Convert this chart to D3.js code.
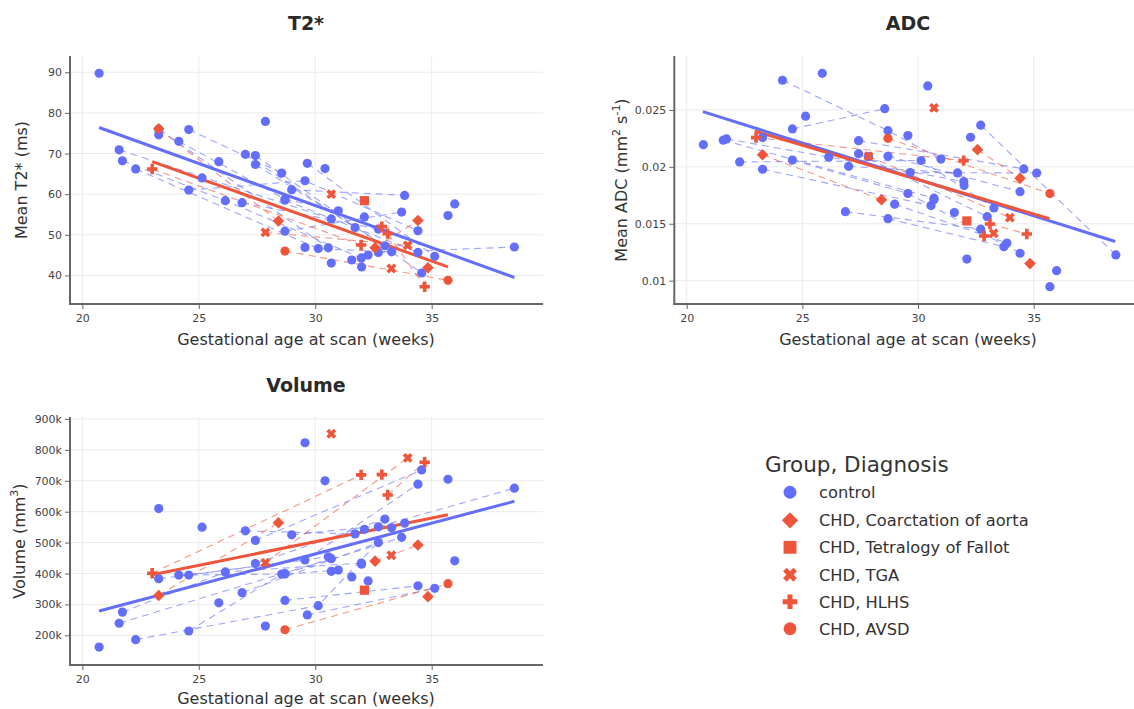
<!DOCTYPE html>
<html>
<head>
<meta charset="utf-8">
<script src="https://cdn.jsdelivr.net/npm/d3@7"></script>
<style>
  html, body { margin: 0; padding: 0; background: #fff; }
  svg { display: block; font-family: "DejaVu Sans", Verdana, sans-serif; }
</style>
</head>
<body>
<svg id="chart" width="1134" height="709"></svg>
<script>
// ---------------- DATA ----------------
const groupLabels = ["control", "CHD, Coarctation of aorta", "CHD, Tetralogy of Fallot", "CHD, TGA", "CHD, HLHS", "CHD, AVSD"];

// one entry per scan (50 control scans, then 17 CHD scans)
const scanAge = [20.72,21.58,21.72,22.29,23.28,23.28,24.14,24.57,24.57,25.14,25.86,26.14,26.86,27.0,27.43,27.43,27.86,28.56,28.70,28.70,28.70,28.99,29.56,29.56,29.66,30.13,30.42,30.56,30.69,30.69,30.99,31.57,31.71,31.98,31.99,32.11,32.27,32.71,32.71,32.99,33.28,33.71,33.84,34.41,34.41,34.57,35.13,35.70,35.99,38.55,
  23.28,28.42,32.57,34.41,34.84,32.11,27.86,30.69,33.27,33.97,23.0,31.97,32.86,33.11,34.70,28.70,35.70];

// 0 control, 1 coarctation, 2 ToF, 3 TGA, 4 HLHS, 5 AVSD
const scanGroup = [0,0,0,0,0,0,0,0,0,0,0,0,0,0,0,0,0,0,0,0,0,0,0,0,0,0,0,0,0,0,0,0,0,0,0,0,0,0,0,0,0,0,0,0,0,0,0,0,0,0,
  1,1,1,1,1,2,3,3,3,3,4,4,4,4,4,5,5];

const scanSubject = ["s01","sA","sB","sC","s05","sR","sE","sF","sG","s10","s11","sB","sQ","sI","sJ","sK","s17","sF","sE","sO","sN","sP","s23","sG","sS","sC","s27","sR","sA","s30","sE","s32","sI","sB","s35","s36","s37","sM","sQ","sK","sC","sN","sP","sG","sO","sJ","sS","s48","s49","sM",
  "CoA1","CoA1","CoA2","CoA2","CoA3","ToF1","TGA1","TGA2","TGA3","TGA1","HLHS1","HLHS1","HLHS2","HLHS3","HLHS3","AVSD1","AVSD1"];

const t2Values = [89.75,70.9,68.2,66.2,74.6,76.0,73.0,75.9,61.0,64.0,68.0,58.4,57.9,69.8,69.5,67.3,77.9,65.2,58.8,58.5,50.9,61.1,46.9,63.3,67.6,46.6,66.3,46.8,53.9,43.05,55.9,43.8,51.8,44.3,42.1,54.4,45.0,45.65,51.4,47.3,45.8,55.6,59.7,51.0,45.65,40.6,44.7,54.75,57.6,47.0,
  76.1,53.4,46.8,53.5,41.9,58.4,50.6,60.0,41.7,47.4,66.2,47.5,52.0,50.3,37.2,46.0,38.8];

const adcValues = [0.02195,0.02234,0.02245,0.02043,0.02257,0.01979,0.02761,0.02333,0.0206,0.02445,0.02822,0.02086,0.01606,0.02005,0.0223,0.02116,0.0209,0.02511,0.02318,0.02093,0.01545,0.01672,0.02275,0.01766,0.0195,0.02056,0.02711,0.0166,0.01725,0.0171,0.02068,0.01599,0.01947,0.01871,0.01836,0.0119,0.0226,0.02366,0.01452,0.01562,0.01639,0.01299,0.01331,0.01241,0.01782,0.01982,0.01946,0.00947,0.01088,0.01226,
  0.02107,0.01711,0.02151,0.019,0.0115,0.01525,0.02093,0.02518,0.01416,0.01554,0.02257,0.02055,0.01393,0.01498,0.0141,0.02251,0.01765];

const volValues = [162e3,239e3,275e3,186e3,610e3,383e3,395e3,214e3,395e3,550e3,305e3,405e3,338e3,538e3,507e3,432e3,230e3,398e3,398e3,313e3,400e3,525e3,823e3,444e3,266e3,296e3,700e3,454e3,448e3,407e3,411e3,389e3,528e3,434e3,430e3,543e3,376e3,551e3,500e3,576e3,548e3,517e3,563e3,689e3,360e3,735e3,352e3,705e3,441e3,676e3,
  329e3,564e3,440e3,492e3,325e3,346e3,435e3,852e3,459e3,774e3,401e3,719e3,720e3,654e3,760e3,218e3,367e3];

// fitted trend lines (end points)
const t2FitControl = [[20.72, 76.4], [38.55, 39.5]];
const t2FitCHD = [[23.0, 68.0], [35.70, 42.1]];
const adcFitControl = [[20.70, 0.02485], [38.52, 0.01344]];
const adcFitCHD = [[22.94, 0.02314], [35.68, 0.01544]];
const volFitControl = [[20.72, 278.6e3], [38.55, 633.6e3]];
const volFitCHD = [[23.0, 396e3], [35.70, 590e3]];

const xTicks = [20, 25, 30, 35];
const t2Ticks = [40, 50, 60, 70, 80, 90];
const adcTicks = [0.01, 0.015, 0.02, 0.025];
const volTicks = [200e3, 300e3, 400e3, 500e3, 600e3, 700e3, 800e3, 900e3];

// ---------------- DRAWING ----------------
const BLUE = "#636EFA", RED = "#EF553B";
const svg = d3.select("#chart");

const scans = scanAge.map((a, i) => ({
  age: a, group: scanGroup[i], subject: scanSubject[i],
  t2: t2Values[i], adc: adcValues[i], vol: volValues[i]
}));

function markerPath(group, big) {
  const k = big ? 1.4 : 1;
  if (group === 0 || group === 5) {
    const r = 4.6 * k;
    return d3.symbol(d3.symbolCircle, Math.PI * r * r)();
  }
  if (group === 1) {
    const h = 5.8 * k;
    return `M0,${-h}L${h},0L0,${h}L${-h},0Z`;
  }
  if (group === 2) {
    const s = 4.6 * k;
    return `M${-s},${-s}H${s}V${s}H${-s}Z`;
  }
  const t = 1.8 * k, L = 5.2 * k;
  return `M${-t},${-L}H${t}V${-t}H${L}V${t}H${t}V${L}H${-t}V${t}H${-L}V${-t}H${-t}Z`;
}
function markerRotate(group) { return group === 3 ? 45 : 0; }

const panels = [
  { key: "t2", title: "T2*", left: 70, top: 56, width: 473, height: 248,
    xDomain: [19.47, 39.78], yDomain: [32.97, 94.0], yTicks: t2Ticks, fmt: d => d,
    fitC: t2FitControl, fitH: t2FitCHD, titleX: 306, titleY: 30, ylabelX: 27, xlabelX: 306, xlabelY: 345,
    ylabel: [["Mean T2* (ms)", 0]] },
  { key: "adc", title: "ADC", left: 674.3, top: 56, width: 473, height: 248,
    xDomain: [19.464, 39.91], yDomain: [0.00795, 0.02974], yTicks: adcTicks, fmt: d => String(d),
    fitC: adcFitControl, fitH: adcFitCHD, titleX: 908, titleY: 30, ylabelX: 627, xlabelX: 908, xlabelY: 345,
    ylabel: [["Mean ADC (mm", 0], ["2", 1], [" s", 0], ["-1", 1], [")", 0]] },
  { key: "vol", title: "Volume", left: 70, top: 417, width: 473, height: 248,
    xDomain: [19.47, 39.78], yDomain: [103.9e3, 906.4e3], yTicks: volTicks, fmt: d => (d / 1000) + "k",
    fitC: volFitControl, fitH: volFitCHD, titleX: 306, titleY: 392, ylabelX: 25, xlabelX: 306, xlabelY: 704,
    ylabel: [["Volume (mm", 0], ["3", 1], [")", 0]] }
];

panels.forEach(p => {
  const x = d3.scaleLinear().domain(p.xDomain).range([p.left, p.left + p.width]);
  const y = d3.scaleLinear().domain(p.yDomain).range([p.top + p.height, p.top]);
  const g = svg.append("g");
  const bottom = p.top + p.height;

  // grid
  g.selectAll(".gx").data(xTicks).join("line")
    .attr("x1", d => x(d)).attr("x2", d => x(d))
    .attr("y1", p.top).attr("y2", bottom)
    .attr("stroke", "#ebebeb").attr("stroke-width", 1);
  g.selectAll(".gy").data(p.yTicks).join("line")
    .attr("x1", p.left).attr("x2", p.left + p.width)
    .attr("y1", d => y(d)).attr("y2", d => y(d))
    .attr("stroke", "#ebebeb").attr("stroke-width", 1);

  // axes
  const xAxis = d3.axisBottom(x).tickValues(xTicks).tickSize(5).tickPadding(3).tickFormat(d => d);
  const yAxis = d3.axisLeft(y).tickValues(p.yTicks).tickSize(5).tickPadding(3).tickFormat(p.fmt);
  const gx = g.append("g").attr("transform", `translate(0,${bottom})`).call(xAxis);
  const gy = g.append("g").attr("transform", `translate(${p.left},0)`).call(yAxis);
  [gx, gy].forEach(a => {
    a.select(".domain").remove();
    a.selectAll(".tick line").attr("stroke", "#666").attr("stroke-width", 1);
    a.selectAll(".tick text").attr("fill", "#444").style("font-size", "11px")
      .style("font-family", "'DejaVu Sans', Verdana, sans-serif");
  });
  gx.selectAll(".tick text").attr("dy", "0.95em");
  g.append("line").attr("x1", p.left).attr("x2", p.left)
    .attr("y1", p.top).attr("y2", bottom + 1).attr("stroke", "#666").attr("stroke-width", 2);
  g.append("line").attr("x1", p.left - 1).attr("x2", p.left + p.width)
    .attr("y1", bottom).attr("y2", bottom).attr("stroke", "#666").attr("stroke-width", 2);

  // subject connecting lines (dashed)
  const bySubject = d3.group(scans, s => s.subject);
  const line = d3.line().x(s => x(s.age)).y(s => y(s[p.key]));
  const tracks = Array.from(bySubject.values()).filter(v => v.length > 1)
    .map(v => v.slice().sort((a, b) => a.age - b.age));
  g.selectAll(".trk").data(tracks).join("path")
    .attr("d", line)
    .attr("fill", "none")
    .attr("stroke", d => d[0].group === 0 ? BLUE : RED)
    .attr("stroke-opacity", 0.62)
    .attr("stroke-width", 1.1)
    .attr("stroke-dasharray", "7,5");

  // fitted lines
  const fl = d3.line().x(d => x(d[0])).y(d => y(d[1]));
  g.append("path").attr("d", fl(p.fitC)).attr("stroke", BLUE).attr("stroke-width", 3)
    .attr("fill", "none");
  g.append("path").attr("d", fl(p.fitH)).attr("stroke", RED).attr("stroke-width", 3)
    .attr("fill", "none");

  // markers: controls then CHD
  const ordered = scans.filter(s => s.group === 0).concat(scans.filter(s => s.group !== 0));
  g.selectAll(".pt").data(ordered).join("path")
    .attr("d", s => markerPath(s.group, false))
    .attr("transform", s => `translate(${x(s.age)},${y(s[p.key])}) rotate(${markerRotate(s.group)})`)
    .attr("fill", s => s.group === 0 ? BLUE : RED);

  // titles
  svg.append("text").attr("x", p.titleX).attr("y", p.titleY)
    .attr("text-anchor", "middle").attr("font-weight", "bold")
    .attr("fill", "#2a2a2a").style("font-size", "19px").text(p.title);
  svg.append("text").attr("x", p.xlabelX).attr("y", p.xlabelY).attr("text-anchor", "middle")
    .attr("fill", "#333").style("font-size", "16px").text("Gestational age at scan (weeks)");

  const yl = svg.append("text")
    .attr("transform", `translate(${p.ylabelX},${p.top + p.height / 2}) rotate(-90)`)
    .attr("text-anchor", "middle").attr("fill", "#333").style("font-size", "16px");
  let shift = 0;
  p.ylabel.forEach(([t, sup]) => {
    const dy = sup ? -7 - shift : -shift;
    shift = sup ? -7 : 0;
    yl.append("tspan").attr("dy", dy).style("font-size", sup ? "11px" : "16px").text(t);
  });
});

// legend
const lg = svg.append("g");
lg.append("text").attr("x", 765).attr("y", 472).attr("fill", "#333")
  .style("font-size", "21.5px").text("Group, Diagnosis");
const legendY = [492.3, 520.3, 547.3, 574.7, 601.7, 628.7];
groupLabels.forEach((lab, i) => {
  lg.append("path").attr("d", markerPath(i, true))
    .attr("transform", `translate(790,${legendY[i]}) rotate(${markerRotate(i)})`)
    .attr("fill", i === 0 ? BLUE : RED);
  lg.append("text").attr("x", 819).attr("y", legendY[i] + 5.8).attr("fill", "#333")
    .style("font-size", "16.3px").text(lab);
});
</script>
</body>
</html>
